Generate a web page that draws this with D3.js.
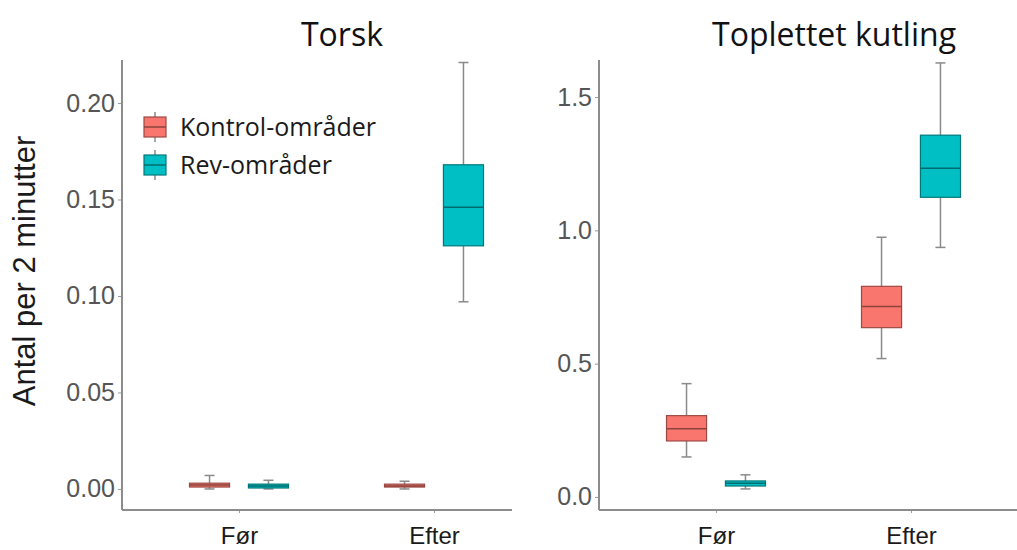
<!DOCTYPE html>
<html>
<head>
<meta charset="utf-8">
<script src="https://cdn.jsdelivr.net/npm/d3@7"></script>
<style>
  body { margin: 0; background: #fff; }
  .tick text { font-family: "Liberation Sans", Arial, sans-serif; }
</style>
</head>
<body>
<div id="vis"></div>
<script>
// categories
const periods = ["Før", "Efter"];
const groups = ["Kontrol-områder", "Rev-områder"];
const colors = ["#F8766D", "#00BFC4"];

// box stats per period: [lower whisker, q1, median, q3, upper whisker]
const torskKontrol = [[0.000, 0.001, 0.002, 0.003, 0.007], [0.000, 0.001, 0.0015, 0.0025, 0.004]];
const torskRev = [[0.000, 0.0005, 0.0015, 0.0025, 0.0045], [0.097, 0.126, 0.146, 0.168, 0.221]];
const kutlingKontrol = [[0.15, 0.21, 0.256, 0.305, 0.425], [0.519, 0.635, 0.714, 0.79, 0.974]];
const kutlingRev = [[0.03, 0.041, 0.051, 0.06, 0.083], [0.936, 1.124, 1.233, 1.357, 1.628]];

// tick labels
const torskTicks = [0, 0.05, 0.10, 0.15, 0.20];
const kutlingTicks = [0, 0.5, 1.0, 1.5];

const WIDTH = 1017, HEIGHT = 550;
const TOP = 60, BOTTOM = 510;

const svg = d3.select("#vis").append("svg")
  .attr("width", WIDTH)
  .attr("height", HEIGHT);

// panel settings (layout only)
const panels = [
  {title: "Torsk", titleX: 342, left: 122, right: 551, clipRight: 512,
   domain: [-0.0109, 0.2223], ticks: torskTicks, fmt: d3.format(".2f"),
   series: [torskKontrol, torskRev]},
  {title: "Toplettet kutling", titleX: 834, left: 599, right: 1028, clipRight: 1017,
   domain: [-0.049, 1.639], ticks: kutlingTicks, fmt: d3.format(".1f"),
   series: [kutlingKontrol, kutlingRev]}
];

const dodge = d3.scaleBand().domain(groups).range([-49.5, 49.5]).paddingInner(0.32);

panels.forEach(p => {
  const x = d3.scalePoint().domain(periods).range([p.left, p.right]).padding(0.6);
  const y = d3.scaleLinear().domain(p.domain).range([BOTTOM, TOP]);
  const g = svg.append("g");

  // title
  g.append("text")
    .attr("x", p.titleX).attr("y", 46)
    .attr("text-anchor", "middle")
    .attr("font-family", "'Open Sans', sans-serif")
    .attr("font-size", 32)
    .attr("fill", "#111")
    .text(p.title);

  // y axis
  const yAxis = g.append("g")
    .attr("transform", "translate(" + p.left + ",0)")
    .call(d3.axisLeft(y).tickValues(p.ticks).tickFormat(p.fmt).tickSize(4).tickPadding(3));
  yAxis.select(".domain").remove();
  yAxis.selectAll(".tick line").attr("stroke", "#999");
  yAxis.selectAll(".tick text").attr("font-size", 25).attr("fill", "#555");

  // x axis
  const xAxis = g.append("g")
    .attr("transform", "translate(0," + BOTTOM + ")")
    .call(d3.axisBottom(x).tickSize(3).tickPadding(14));
  xAxis.select(".domain").remove();
  xAxis.selectAll(".tick line").attr("stroke", "#999");
  xAxis.selectAll(".tick text")
    .attr("font-family", "'Open Sans', sans-serif")
    .attr("font-size", 24).attr("fill", "#1a1a1a");

  // axis lines
  g.append("line")
    .attr("x1", p.left).attr("x2", p.left)
    .attr("y1", TOP).attr("y2", BOTTOM)
    .attr("stroke", "#8c8c8c").attr("stroke-width", 2);
  g.append("line")
    .attr("x1", p.left).attr("x2", p.clipRight)
    .attr("y1", BOTTOM).attr("y2", BOTTOM)
    .attr("stroke", "#8c8c8c").attr("stroke-width", 2);

  // boxes
  p.series.forEach((s, gi) => {
    s.forEach((st, pi) => {
      const cx = x(periods[pi]) + dodge(groups[gi]) + dodge.bandwidth() / 2;
      const bw = dodge.bandwidth();
      const b = g.append("g");
      // whiskers
      b.append("line")
        .attr("x1", cx).attr("x2", cx)
        .attr("y1", y(st[0])).attr("y2", y(st[4]))
        .attr("stroke", "#8a8a8a").attr("stroke-width", 1.5);
      [st[0], st[4]].forEach(v => {
        b.append("line")
          .attr("x1", cx - 5).attr("x2", cx + 5)
          .attr("y1", y(v)).attr("y2", y(v))
          .attr("stroke", "#8a8a8a").attr("stroke-width", 1.5);
      });
      b.append("rect")
        .attr("x", cx - bw / 2).attr("width", bw)
        .attr("y", y(st[3])).attr("height", Math.max(y(st[1]) - y(st[3]), 2))
        .attr("fill", colors[gi])
        .attr("stroke", d3.color(colors[gi]).darker(1.3))
        .attr("stroke-width", 1.2);
      b.append("line")
        .attr("x1", cx - bw / 2).attr("x2", cx + bw / 2)
        .attr("y1", y(st[2])).attr("y2", y(st[2]))
        .attr("stroke", d3.color(colors[gi]).darker(1.6))
        .attr("stroke-width", 1.5);
    });
  });
});

// legend
const legend = svg.append("g");
groups.forEach((name, i) => {
  const cy = 127 + i * 38;
  const lg = legend.append("g");
  lg.append("line")
    .attr("x1", 155).attr("x2", 155)
    .attr("y1", cy - 15).attr("y2", cy + 15)
    .attr("stroke", "#8a8a8a").attr("stroke-width", 1.5);
  lg.append("rect")
    .attr("x", 144).attr("y", cy - 10)
    .attr("width", 22).attr("height", 20)
    .attr("fill", colors[i])
    .attr("stroke", d3.color(colors[i]).darker(1.3))
    .attr("stroke-width", 1.2);
  lg.append("line")
    .attr("x1", 144).attr("x2", 166)
    .attr("y1", cy).attr("y2", cy)
    .attr("stroke", d3.color(colors[i]).darker(1.6))
    .attr("stroke-width", 1.5);
  lg.append("text")
    .attr("x", 180).attr("y", cy + 9)
    .attr("font-family", "'Open Sans', sans-serif")
    .attr("font-size", 25)
    .attr("fill", "#1a1a1a")
    .text(name);
});

// y axis title
svg.append("text")
  .attr("transform", "translate(35,271) rotate(-90)")
  .attr("text-anchor", "middle")
  .attr("font-family", "'Liberation Sans', Arial, sans-serif")
  .attr("font-size", 31)
  .attr("fill", "#1a1a1a")
  .text("Antal per 2 minutter");
</script>
</body>
</html>
